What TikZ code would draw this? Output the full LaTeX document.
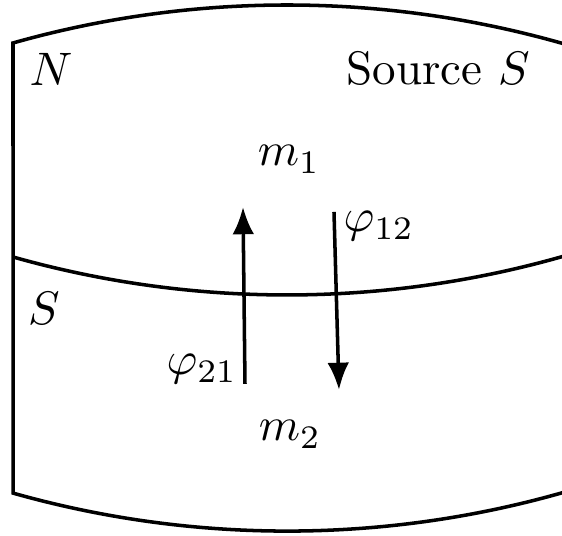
\documentclass[tikz,border=0pt]{standalone}
\usepackage{tikz}
\usetikzlibrary{arrows.meta}
\tikzset{
  rim/.style={draw=black,line width=0.75pt,line join=miter},
  flux/.style={-{Latex[length=5.8pt,width=4.6pt]},draw=black,line width=0.75pt},
  lbl/.style={inner sep=0pt,anchor=base}
}

\begin{document}
\begin{tikzpicture}[x=0.2128pt,y=0.2128pt]
  \useasboundingbox (0,0) rectangle (562,536);
  \clip (0,0) rectangle (562,536);

  % outline of the two layers
  \draw[rim] (565,44) arc[start angle=286.03,end angle=254.21,radius=1006.8]
    -- (13,493) arc[start angle=105.79,end angle=73.97,radius=1006.8];
  \draw[rim] (13,279) arc[start angle=254.21,end angle=286.03,radius=1006.8];

  \node[lbl] (north) at (51,450) {\(N\)};
  \node[lbl] (south) at (44,211) {\(S\)};
  \node[lbl] (source) at (438,451) {Source \(S\)};
  \node[lbl] (m1) at (289,370) {\(m_1\)};
  \node[lbl] (m2) at (290,95) {\(m_2\)};
  \node[lbl] (phi12) at (379,304) {\(\varphi_{12}\)};
  \node[lbl] (phi21) at (202,161) {\(\varphi_{21}\)};

  \coordinate (up0) at (245,152);
  \coordinate (up1) at (243,329);
  \coordinate (dn0) at (334,324);
  \coordinate (dn1) at (339,146);
  \draw[flux] (up0) -- (up1);
  \draw[flux] (dn0) -- (dn1);
\end{tikzpicture}
\end{document}
